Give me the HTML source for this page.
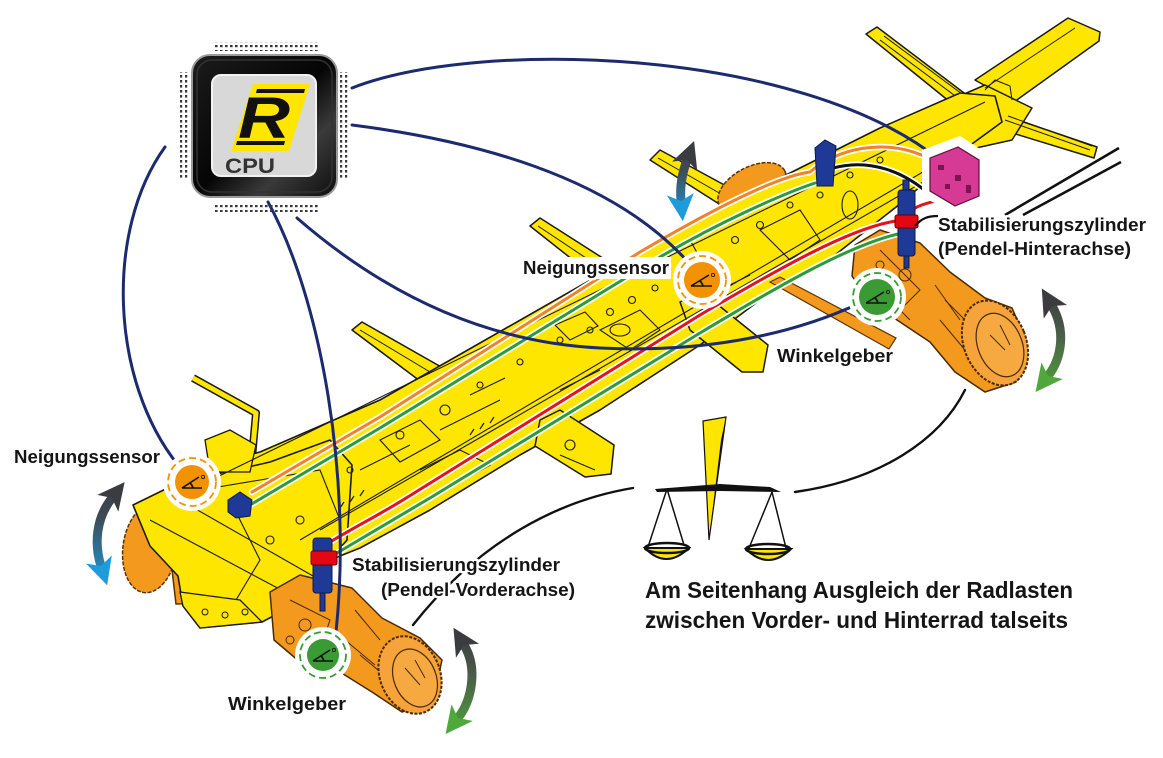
<!DOCTYPE html>
<html><head><meta charset="utf-8">
<style>
html,body{margin:0;padding:0;background:#fff;}
svg{display:block;}
text{font-family:"Liberation Sans",sans-serif;font-weight:bold;fill:#151515;}
.lbl{stroke:#fff;stroke-width:5;paint-order:stroke;stroke-linejoin:round;}
</style></head><body>
<svg width="1163" height="758" viewBox="0 0 1163 758" xmlns="http://www.w3.org/2000/svg">
<defs>
<linearGradient id="chipG" x1="0" y1="0" x2="1" y2="1">
<stop offset="0" stop-color="#1c1c1c"/><stop offset="0.5" stop-color="#050505"/><stop offset="0.72" stop-color="#3a3a3a"/><stop offset="1" stop-color="#0d0d0d"/></linearGradient>
<pattern id="pH" width="5" height="5" patternUnits="userSpaceOnUse"><rect width="2.6" height="2.2" fill="#3a3a3a"/></pattern>
<pattern id="pV" width="5" height="5" patternUnits="userSpaceOnUse"><rect width="2.2" height="2.6" fill="#3a3a3a"/></pattern>
<linearGradient id="gFL" x1="0" y1="480" x2="0" y2="585" gradientUnits="userSpaceOnUse"><stop offset="0" stop-color="#3b3e43"/><stop offset="0.35" stop-color="#3e4a55"/><stop offset="1" stop-color="#1e9ad8"/></linearGradient>
<linearGradient id="gRL" x1="0" y1="140" x2="0" y2="222" gradientUnits="userSpaceOnUse"><stop offset="0" stop-color="#3b3e43"/><stop offset="0.35" stop-color="#3e4a55"/><stop offset="1" stop-color="#1e9ad8"/></linearGradient>
<linearGradient id="gFR" x1="0" y1="628" x2="0" y2="738" gradientUnits="userSpaceOnUse"><stop offset="0" stop-color="#36383b"/><stop offset="0.4" stop-color="#4a5a4a"/><stop offset="1" stop-color="#4fa63a"/></linearGradient>
<linearGradient id="gRR" x1="0" y1="287" x2="0" y2="395" gradientUnits="userSpaceOnUse"><stop offset="0" stop-color="#36383b"/><stop offset="0.4" stop-color="#4a5a4a"/><stop offset="1" stop-color="#4fa63a"/></linearGradient>
<marker id="hD" viewBox="0 0 10 10" refX="2.5" refY="5" markerWidth="27" markerHeight="27" markerUnits="userSpaceOnUse" orient="auto-start-reverse"><path d="M0,0 L10,5 L0,10 L2.5,5 z" fill="#3a3c40"/></marker>
<marker id="hB" viewBox="0 0 10 10" refX="2.5" refY="5" markerWidth="27" markerHeight="27" markerUnits="userSpaceOnUse" orient="auto"><path d="M0,0 L10,5 L0,10 L2.5,5 z" fill="#1f9bdb"/></marker>
<marker id="hG" viewBox="0 0 10 10" refX="2.5" refY="5" markerWidth="27" markerHeight="27" markerUnits="userSpaceOnUse" orient="auto"><path d="M0,0 L10,5 L0,10 L2.5,5 z" fill="#4ea83a"/></marker>
</defs>

<rect width="1163" height="758" fill="#fff"/>

<!-- ========== REAR X FRAME ========== -->
<g fill="#ffe600" stroke="#1a1a1a" stroke-width="1.5" stroke-linejoin="round">
<polygon points="866,34 877,27 968,96 955,106"/>
<polygon points="975,80 1068,18 1100,32 1099,41 1014,102"/>
<polygon points="1000,114 1097,147 1094,158 996,128"/>
<polygon points="918,114 985,85 1032,108 1012,140 958,152"/>
</g>
<g stroke="#1a1a1a" stroke-width="1" fill="none">
<line x1="880" y1="40" x2="958" y2="98"/><line x1="884" y1="36" x2="962" y2="94"/>
<line x1="985" y1="88" x2="1075" y2="28"/><line x1="1005" y1="120" x2="1090" y2="150"/><line x1="1008" y1="116" x2="1092" y2="146"/>
<circle cx="965" cy="118" r="3"/><circle cx="985" cy="110" r="3"/><circle cx="975" cy="130" r="2.5"/>
<path d="M985,90 L995,80 L1010,86 L1012,100"/><path d="M940,120 L960,110 L975,118"/>
</g>
<!-- rear dark lines -->
<g stroke="#111" stroke-width="2.6"><line x1="1005" y1="215" x2="1119" y2="148"/><line x1="1023" y1="215" x2="1121" y2="162"/></g>

<!-- ========== crossmembers behind beam ========== -->
<g fill="#ffe600" stroke="#1a1a1a" stroke-width="1.5" stroke-linejoin="round">
<polygon points="352,330 362,322 450,372 432,390"/>
<polygon points="530,226 540,218 634,278 616,294"/>
<polygon points="650,160 660,150 752,200 738,216"/>
</g>
<g stroke="#1a1a1a" stroke-width="1" fill="none">
<line x1="360" y1="330" x2="440" y2="378"/><line x1="538" y1="226" x2="622" y2="282"/><line x1="658" y1="158" x2="742" y2="206"/>
</g>
<!-- rear far wheel -->
<ellipse cx="752" cy="188" rx="37" ry="21" transform="rotate(-28 752 188)" fill="#f39a1e" stroke="#5a3200" stroke-width="1.5" stroke-dasharray="4 1.5"/>
<!-- front far wheel -->
<polygon points="165,510 232,520 242,602 176,604" fill="#f39a1e" stroke="#5a3200" stroke-width="1.5"/>
<ellipse cx="150" cy="548" rx="27" ry="45" transform="rotate(8 150 548)" fill="#f39a1e" stroke="#5a3200" stroke-width="1.5" stroke-dasharray="4 1.5"/>
<g stroke="#5a3200" stroke-width="1" fill="none"><circle cx="195" cy="560" r="12"/><path d="M175,525 L225,540 M180,585 L235,590"/></g>

<!-- handrail -->
<path d="M193,378 L256,413 L252,458" fill="none" stroke="#1a1a1a" stroke-width="8" stroke-linejoin="round"/>
<path d="M193,378 L256,413 L252,458" fill="none" stroke="#ffe600" stroke-width="5" stroke-linejoin="round"/>

<!-- ========== MAIN BEAM ========== -->
<polygon fill="#ffe600" stroke="#1a1a1a" stroke-width="1.6" stroke-linejoin="round"
points="200,468 260,452 380,400 480,343 580,286 680,230 780,178 880,128 960,93 995,96 1002,122 950,160 905,200 835,255 760,300 700,345 600,410 520,455 430,510 360,548 330,560"/>
<!-- front structure -->
<polygon fill="#ffe600" stroke="#1a1a1a" stroke-width="1.6" stroke-linejoin="round"
points="133,505 180,482 235,470 270,462 330,440 352,465 347,540 322,568 300,602 262,622 200,628 183,606 178,576 150,546"/>
<polygon fill="#ffe600" stroke="#1a1a1a" stroke-width="1.3" points="205,440 230,430 256,445 250,472 210,472"/>
<!-- lower crossmembers -->
<g fill="#ffe600" stroke="#1a1a1a" stroke-width="1.5" stroke-linejoin="round">
<polygon points="540,420 560,410 614,445 611,474 585,477 535,446"/>
<polygon points="680,302 702,292 768,345 763,372 742,372 690,330"/>
</g>
<!-- beam detail -->
<g stroke="#1a1a1a" stroke-width="1.1" fill="none">
<path d="M215,478 L985,102"/>
<path d="M300,540 L960,150"/>
<path d="M320,530 L930,178"/>
<path d="M150,520 L300,600"/><path d="M180,500 L320,580"/>
<path d="M230,500 L260,560 L230,610"/><path d="M200,490 L320,470 L340,520"/>
<path d="M420,470 L460,450 L490,465 L455,485"/>
<path d="M600,330 L640,310 L660,330 L630,350 Z"/>
<path d="M760,230 L800,210 L820,240 L790,260 Z"/>
<path d="M440,430 L500,400"/><path d="M360,470 L410,445"/>
<path d="M560,390 L600,370"/><path d="M700,300 L750,275"/>
<path d="M555,325 L585,312 L598,326 L570,340 Z"/><path d="M660,255 L690,240 L700,258"/>
<path d="M380,440 L420,420 L440,440 L400,462 Z"/><path d="M470,395 L505,378"/>
<path d="M560,455 L595,470"/>
<circle cx="610" cy="312" r="3.5"/><circle cx="632" cy="300" r="3.5"/><circle cx="655" cy="288" r="3"/>
<circle cx="560" cy="340" r="3"/><circle cx="520" cy="362" r="3"/><circle cx="480" cy="385" r="3"/>
<circle cx="735" cy="240" r="3.5"/><circle cx="760" cy="225" r="3.5"/><circle cx="790" cy="205" r="3"/>
<circle cx="850" cy="175" r="3"/><circle cx="880" cy="160" r="3"/><circle cx="445" cy="410" r="5"/>
<circle cx="300" cy="520" r="4"/><circle cx="270" cy="540" r="4"/><circle cx="570" cy="445" r="5"/>
<circle cx="590" cy="330" r="3"/><circle cx="700" cy="265" r="3"/><circle cx="820" cy="195" r="3"/>
<circle cx="400" cy="435" r="4"/><circle cx="350" cy="470" r="3"/>
<ellipse cx="620" cy="330" rx="10" ry="6"/><ellipse cx="850" cy="205" rx="8" ry="14"/>
</g>
<g stroke="#1a1a1a" stroke-width="1.2">
<path d="M340,508 l4,-6 M350,502 l4,-6 M360,496 l4,-6 M470,435 l4,-6 M480,429 l4,-6 M490,423 l4,-6 M700,285 l4,-6 M710,279 l4,-6 M720,273 l4,-6"/>
</g>

<!-- front box -->
<polygon fill="#ffe600" stroke="#1a1a1a" stroke-width="1.3" points="180,592 240,600 262,622 200,628 183,606"/>
<g stroke="#1a1a1a" stroke-width="1" fill="none"><circle cx="205" cy="612" r="3"/><circle cx="225" cy="615" r="3"/><circle cx="245" cy="612" r="3"/></g>

<!-- orange rear strut -->
<polygon points="770,282 780,277 896,338 889,349" fill="#f39a1e" stroke="#5a3200" stroke-width="1.2"/>

<!-- REAR AXLE -->
<polygon fill="#f39a1e" stroke="#4a2a00" stroke-width="1.5" stroke-linejoin="round"
points="855,245 880,230 920,243 950,272 985,298 1012,308 1026,340 1016,382 985,392 955,372 930,342 900,322 870,302 852,276"/>
<g stroke="#4a2a00" stroke-width="1" fill="none">
<path d="M880,250 L920,290 L900,310"/><circle cx="905" cy="275" r="6"/><path d="M935,285 L960,320"/>
<circle cx="880" cy="265" r="4"/><path d="M860,290 L890,300 L910,320"/><path d="M945,300 L975,330 M940,320 L965,350"/>
</g>
<ellipse cx="995" cy="343" rx="31" ry="44" transform="rotate(-22 995 343)" fill="#f5a33a" stroke="#4a2a00" stroke-width="2" stroke-dasharray="3 1.5"/>
<ellipse cx="1000" cy="345" rx="22" ry="33" transform="rotate(-22 1000 345)" fill="#f7a941" stroke="#4a2a00" stroke-width="1.2"/>
<path d="M990,335 L1005,350 M1000,325 L1010,345" stroke="#4a2a00" stroke-width="1"/>

<!-- FRONT AXLE -->
<polygon fill="#f39a1e" stroke="#4a2a00" stroke-width="1.5" stroke-linejoin="round"
points="270,592 300,575 352,588 382,618 420,638 442,660 433,702 402,712 372,692 340,672 300,662 274,640"/>
<g stroke="#4a2a00" stroke-width="1" fill="none">
<path d="M290,600 L330,620 L320,650"/><circle cx="305" cy="625" r="6"/><path d="M345,640 L375,665"/>
<circle cx="290" cy="640" r="4"/><path d="M355,610 L380,640 M360,655 L390,680"/>
</g>
<ellipse cx="410" cy="675" rx="30" ry="40" transform="rotate(-22 410 675)" fill="#f5a33a" stroke="#4a2a00" stroke-width="2" stroke-dasharray="3 1.5"/>
<ellipse cx="415" cy="678" rx="21" ry="30" transform="rotate(-22 415 678)" fill="#f7a941" stroke="#4a2a00" stroke-width="1.2"/>
<path d="M405,668 L420,685 M415,660 L425,678" stroke="#4a2a00" stroke-width="1"/>

<!-- ========== COLOURED LINES ========== -->
<g fill="none" stroke-linecap="round" stroke-linejoin="round">
<g stroke="#fff" stroke-width="6.5">
<path d="M252,492 L380,417 L640,252 C720,205 780,176 810,172 C835,150 885,135 932,160"/>
<path d="M250,505 L380,428 L660,257 C720,222 780,195 815,183"/>
<path d="M330,542 C355,527 375,517 403,500 L700,315 C780,268 850,228 896,221"/>
<path d="M915,208 C930,200 948,200 966,195"/>
<path d="M337,553 L430,498 L700,333 C780,285 850,245 898,234"/>
<path d="M833,168 C870,158 905,172 930,195"/>
</g>
<path d="M252,492 L380,417 L640,252 C720,205 780,176 810,172 C835,150 885,135 932,160" stroke="#f0822a" stroke-width="3"/>
<path d="M250,505 L380,428 L660,257 C720,222 780,195 815,183" stroke="#2e9a3b" stroke-width="3"/>
<path d="M330,542 C355,527 375,517 403,500 L700,315 C780,268 850,228 896,221" stroke="#e3141b" stroke-width="3"/>
<path d="M915,208 C930,200 948,200 966,195" stroke="#e3141b" stroke-width="3"/>
<path d="M337,553 L430,498 L700,333 C780,285 850,245 898,234" stroke="#2e9a3b" stroke-width="3"/>
<path d="M833,168 C870,158 905,172 930,195" stroke="#111" stroke-width="3"/>
</g>

<!-- ========== NAVY CURVES ========== -->
<g fill="none" stroke="#1c2a6e" stroke-width="3" stroke-linecap="round">
<path d="M352,88 C480,38 800,48 940,160"/>
<path d="M352,125 C470,140 610,175 688,262"/>
<path d="M297,218 C380,290 480,342 600,348 C700,353 790,336 860,303"/>
<path d="M165,147 C105,230 110,380 178,465"/>
<path d="M268,202 C322,300 352,480 336,632"/>
</g>

<!-- pink valve -->
<polygon points="922,150 960,136 988,154 988,202 956,213 922,197" fill="#fff"/>
<polygon points="930,158 958,147 979,160 979,196 955,206 930,191" fill="#d63a94" stroke="#5a0f3a" stroke-width="1.2"/>
<g fill="#7a1550"><rect x="938" y="165" width="6" height="5"/><rect x="955" y="175" width="6" height="6"/><rect x="966" y="185" width="5" height="8"/><rect x="945" y="184" width="5" height="5"/></g>

<!-- cylinders -->
<g stroke="#0b1a4a" stroke-width="1">
<rect x="903" y="180" width="6" height="12" fill="#1f3a96"/>
<rect x="898" y="190" width="17" height="66" rx="3" fill="#1f3a96"/>
<rect x="895" y="215" width="23" height="13" rx="2" fill="#e30613" stroke="#600"/>
<rect x="904" y="256" width="5" height="12" fill="#1f3a96"/>
<polygon points="815,148 825,140 836,146 833,186 817,186" fill="#1f3a96"/>
<rect x="313" y="538" width="19" height="55" rx="3" fill="#1f3a96"/>
<rect x="311" y="551" width="26" height="14" rx="2" fill="#e30613" stroke="#600"/>
<rect x="320" y="593" width="5" height="18" fill="#1f3a96"/>
<polygon points="228,500 240,492 252,500 250,516 236,518 228,512" fill="#1f3a96"/>
</g>

<!-- leaders -->
<path d="M915,226 C922,218 928,216 938,216" fill="none" stroke="#111" stroke-width="2.2"/>

<!-- ========== SENSORS ========== -->
<g>
<circle cx="192" cy="482" r="29" fill="#fff"/>
<circle cx="192" cy="482" r="24" fill="none" stroke="#f39200" stroke-width="1.8" stroke-dasharray="7 4"/>
<circle cx="192" cy="482" r="17" fill="#f39200"/>
<path d="M182,488 L202,488 M182,488 L199,477 M193,488 A10,10 0 0 0 190,483" fill="none" stroke="#111" stroke-width="1.6"/>
<circle cx="203" cy="477" r="1.6" fill="none" stroke="#111" stroke-width="0.8"/>

<circle cx="702" cy="280" r="29" fill="#fff"/>
<circle cx="702" cy="280" r="24" fill="none" stroke="#f39200" stroke-width="1.8" stroke-dasharray="7 4"/>
<circle cx="702" cy="280" r="18" fill="#f39200"/>
<path d="M691,286 L712,286 M691,286 L709,275 M703,286 A10,10 0 0 0 700,281" fill="none" stroke="#111" stroke-width="1.6"/>
<circle cx="713" cy="275" r="1.6" fill="none" stroke="#111" stroke-width="0.8"/>

<circle cx="323" cy="655" r="28" fill="#fff"/>
<circle cx="323" cy="655" r="23" fill="none" stroke="#3a9b35" stroke-width="1.8" stroke-dasharray="7 4"/>
<circle cx="323" cy="655" r="16" fill="#3a9b35"/>
<path d="M313,661 L333,661 M313,661 L330,650 M324,661 A10,10 0 0 0 321,656" fill="none" stroke="#111" stroke-width="1.6"/>
<circle cx="334" cy="650" r="1.6" fill="none" stroke="#111" stroke-width="0.8"/>

<circle cx="877" cy="297" r="29" fill="#fff"/>
<circle cx="877" cy="297" r="24" fill="none" stroke="#3a9b35" stroke-width="1.8" stroke-dasharray="7 4"/>
<circle cx="877" cy="297" r="18" fill="#3a9b35"/>
<path d="M866,303 L887,303 M866,303 L884,292 M878,303 A10,10 0 0 0 875,298" fill="none" stroke="#111" stroke-width="1.6"/>
<circle cx="888" cy="292" r="1.6" fill="none" stroke="#111" stroke-width="0.8"/>
</g>

<!-- ========== ARROWS ========== -->
<g fill="none" stroke-width="9">
<path d="M112,498 C96,518 94,544 101,566" stroke="url(#gFL)" marker-start="url(#hD)" marker-end="url(#hB)"/>
<path d="M687,160 C681,176 680,190 681,201" stroke="url(#gRL)" marker-start="url(#hD)" marker-end="url(#hB)"/>
<path d="M464,645 C478,668 472,700 458,718" stroke="url(#gFR)" marker-start="url(#hD)" marker-end="url(#hG)"/>
<path d="M1052,306 C1066,330 1062,358 1048,376" stroke="url(#gRR)" marker-start="url(#hD)" marker-end="url(#hG)"/>
</g>

<!-- ========== BALANCE ========== -->
<g fill="none" stroke="#111" stroke-width="2.4" stroke-linecap="round">
<path d="M633,488 C560,500 480,540 413,625"/>
<path d="M795,492 C880,480 940,440 965,390"/>
</g>
<polygon points="703,421 726,417 709,540" fill="#ffe600" stroke="#111" stroke-width="1.2"/>
<path d="M726,417 L709,540 L721,440 Z" fill="#111"/>
<polygon points="655,489 720,484 770,487 781,492 720,491 657,492" fill="#111"/>
<g stroke="#111" stroke-width="1.5" fill="none">
<line x1="667" y1="489" x2="648" y2="547"/><line x1="667" y1="489" x2="684" y2="545"/>
<line x1="772" y1="492" x2="749" y2="548"/><line x1="772" y1="492" x2="786" y2="548"/>
</g>
<path d="M645,548 Q666,570 689,548 Z" fill="#ffe600" stroke="#111" stroke-width="2"/>
<ellipse cx="667" cy="548" rx="22" ry="5" fill="none" stroke="#111" stroke-width="2.5"/>
<path d="M746,549 Q768,571 791,549 Z" fill="#ffe600" stroke="#111" stroke-width="2"/>
<ellipse cx="768" cy="549" rx="22" ry="5" fill="none" stroke="#111" stroke-width="2.5"/>

<!-- ========== CPU CHIP ========== -->
<rect x="213" y="42" width="105" height="9" fill="url(#pH)"/>
<rect x="213" y="203" width="105" height="9" fill="url(#pH)"/>
<rect x="178" y="72" width="10" height="106" fill="url(#pV)"/>
<rect x="339" y="72" width="10" height="106" fill="url(#pV)"/>
<rect x="192" y="55" width="145" height="142" rx="18" fill="url(#chipG)" stroke="#9a9a9a" stroke-width="2"/>
<rect x="197" y="60" width="135" height="132" rx="15" fill="none" stroke="#333" stroke-width="1.5"/>
<rect x="212" y="75" width="104" height="101" rx="9" fill="#d8d8d8" stroke="#f2f2f2" stroke-width="2"/>
<polygon points="253,84 310,84 289,151 231,151" fill="#ffe600"/>
<polygon points="257,89 305,89 304,93 256,93" fill="#111"/>
<polygon points="237,141 285,141 284,145 236,145" fill="#111"/>
<text x="238" y="138" font-size="58" font-style="italic" textLength="52" lengthAdjust="spacingAndGlyphs" style="fill:#111">R</text>
<text x="225" y="173" font-size="21" textLength="50" lengthAdjust="spacingAndGlyphs" style="fill:#333">CPU</text>

<!-- ========== LABELS ========== -->
<rect x="519" y="257" width="152" height="22" fill="#fff"/>
<text class="lbl" x="14" y="463" font-size="18" textLength="146" lengthAdjust="spacingAndGlyphs">Neigungssensor</text>
<text class="lbl" x="523" y="274" font-size="18" textLength="146" lengthAdjust="spacingAndGlyphs">Neigungssensor</text>
<text class="lbl" x="228" y="710" font-size="18" textLength="118" lengthAdjust="spacingAndGlyphs">Winkelgeber</text>
<text class="lbl" x="777" y="362" font-size="18" textLength="116" lengthAdjust="spacingAndGlyphs">Winkelgeber</text>
<text class="lbl" x="352" y="571" font-size="18" textLength="208" lengthAdjust="spacingAndGlyphs">Stabilisierungszylinder</text>
<text class="lbl" x="381" y="596" font-size="18" textLength="194" lengthAdjust="spacingAndGlyphs">(Pendel-Vorderachse)</text>
<text class="lbl" x="938" y="231" font-size="18" textLength="208" lengthAdjust="spacingAndGlyphs">Stabilisierungszylinder</text>
<text class="lbl" x="938" y="255" font-size="18" textLength="193" lengthAdjust="spacingAndGlyphs">(Pendel-Hinterachse)</text>
<text x="645" y="598" font-size="23" textLength="428" lengthAdjust="spacingAndGlyphs">Am Seitenhang Ausgleich der Radlasten</text>
<text x="645" y="628" font-size="23" textLength="423" lengthAdjust="spacingAndGlyphs">zwischen Vorder- und Hinterrad talseits</text>
</svg>
</body></html>
